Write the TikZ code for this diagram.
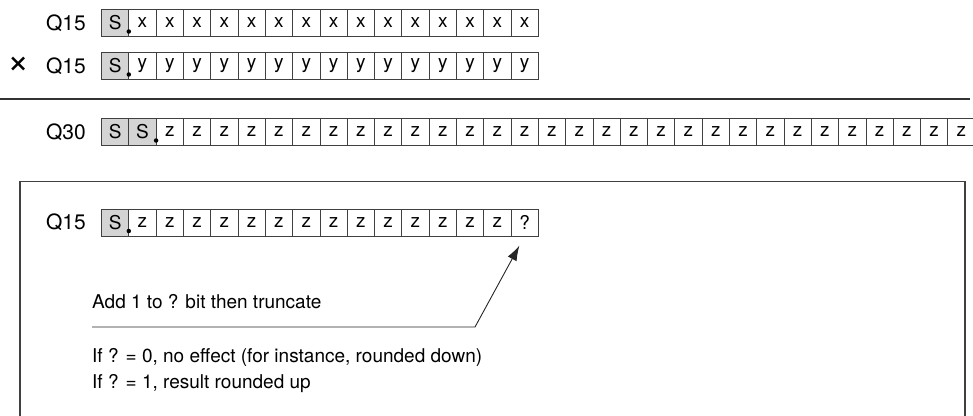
\documentclass[tikz,border=0pt]{standalone}
\usepackage{fontspec}
\setmainfont{TeX Gyre Heros}
\usetikzlibrary{positioning,calc,arrows.meta}
\def\txt{\fontsize{19}{22}\selectfont}
\tikzset{bit/.style={draw=black!75,line width=0.8pt,minimum width=27.3pt,minimum height=27pt,inner sep=0pt,outer sep=0pt,font=\txt}}
\tikzset{sbit/.style={bit,fill=black!17}}
\tikzset{qlab/.style={anchor=east,inner sep=0pt,font=\fontsize{21}{24}\selectfont}}
\tikzset{pt/.style={circle,fill=black,minimum size=4.5pt,inner sep=0pt}}
\tikzset{note/.style={anchor=west,inner sep=0pt,font=\txt}}
\tikzset{frame/.style={draw=black!75,line width=1.2pt}}
\tikzset{>={Latex[length=15pt,width=10pt]}}

\begin{document}
\begin{tikzpicture}[x=1pt,y=-1pt]
\useasboundingbox (0,0) rectangle (973,415);
		\node[qlab] (qa) at (86,23) {Q15};
		\node[sbit,anchor=west] (a0) at (101.5,23) {S};
		\foreach \i [count=\j from 0] in {1,...,15}
			\node[bit,right=0pt of a\j] (a\i) {x};
		\node[pt] (pa) at ($(a1.south west)+(0,-5)$) {};

		\node[font=\fontsize{38}{38}\selectfont,inner sep=0pt] (mul) at (18.5,65) {×};
		\node[qlab] (qb) at (86,66) {Q15};
		\node[sbit,anchor=west] (b0) at (101.5,66) {S};
		\foreach \i [count=\j from 0] in {1,...,15}
			\node[bit,right=0pt of b\j] (b\i) {y};
		\node[pt] (pb) at ($(b1.south west)+(0,-5)$) {};

		\coordinate (rl) at (0,99);
		\coordinate (rr) at (970,99);
		\draw[line width=1.3pt,black!80] (rl) -- (rr);

		\node[qlab] (qc) at (86,132) {Q30};
		\node[sbit,anchor=west] (c0) at (101.5,132) {S};
		\node[sbit,right=0pt of c0] (c1) {S};
		\foreach \i [count=\j from 1] in {2,...,31}
			\node[bit,right=0pt of c\j] (c\i) {z};
		\node[pt] (pc) at ($(c2.south west)+(0,-5)$) {};

		\draw[frame] (20,425) -- (20,181.7) -- (965,181.7) -- (965,425);

		\node[qlab] (qd) at (86,222.5) {Q15};
		\node[sbit,anchor=west] (d0) at (101.5,222.5) {S};
		\foreach \i [count=\j from 0] in {1,...,14}
			\node[bit,right=0pt of d\j] (d\i) {z};
		\node[bit,right=0pt of d14] (d15) {?};
		\node[pt] (pd) at ($(d1.south west)+(0,-5)$) {};

		\node[note] (add) at (92,302) {Add 1 to ? bit then truncate};
		\coordinate (lead) at (92,327);
		\coordinate (bend) at (475,327);
		\draw[->,line width=0.9pt,black!85,shorten >=11pt] (lead) -- (bend) -- (d15.south);

		\node[note] (ifa) at (92,357) {If ? = 0, no effect (for instance, rounded down)};
		\node[note] (ifb) at (92,384) {If ? = 1, result rounded up};
	\end{tikzpicture}
\end{document}
